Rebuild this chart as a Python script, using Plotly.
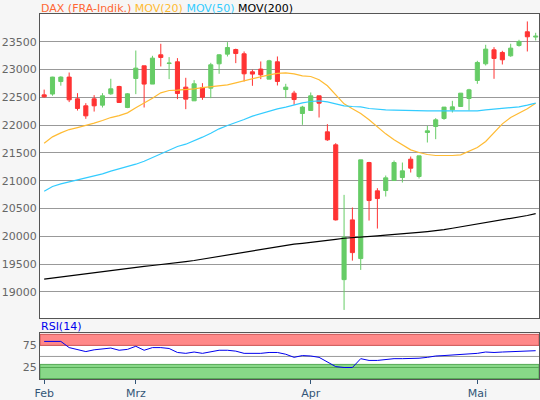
import plotly.graph_objects as go

opens  = [22545,22560,22785,22865,22474,22348,22474,22360,22564,22696,22318,
          22840,23068,22739,23266,23110,23140,22684,22438,22678,22666,23104,23278,23361,23284,22960,23009,22828,23140,22641,22576,22210,
          22264,22528,21880,21646,19221,20296,19600,21328,20818,20824,21004,21058,21388,21076,21868,21976,22120,22276,22336,22480,
          22804,23104,23356,23308,23248,23434,23680,23585]
highs  = [22640,22870,22880,22947,22576,22396,22540,22576,22834,22708,22576,
          23343,23068,23248,23464,23224,23206,22852,22810,22756,23122,23275,23494,23376,23326,23000,23146,23176,23236,22744,22618,22348,
          22588,22528,22018,21676,20746,20518,21376,21340,20866,21094,21364,21328,21436,21448,21988,22126,22325,22438,22576,22654,
          23158,23446,23404,23338,23464,23536,23866,23662]
lows   = [22495,22530,22710,22415,22263,22114,22245,22318,22546,22400,22306,
          22558,22318,22739,23056,22828,22468,22288,22438,22456,22486,22924,23236,23116,22786,22708,22828,22828,22714,22486,22366,22006,
          22264,22138,21718,20284,18676,19563,19396,20284,20140,20716,21004,20968,21148,21040,21688,21748,22096,22228,22336,22263,
          22744,23074,22834,23092,23230,23412,23326,23524]
closes = [22510,22865,22865,22456,22300,22168,22348,22528,22654,22408,22564,
          23026,22739,23206,23218,23116,22570,22468,22744,22504,23086,23266,23397,23289,22924,22919,22906,23158,22786,22684,22461,22325,
          22528,22396,21736,20296,19985,19707,21376,20644,20680,21052,21328,21178,21226,21448,21898,22096,22325,22330,22576,22636,
          23128,23368,23200,23176,23386,23506,23590,23600]
ma20 = [21676,21790,21862,21921,21957,21994,22036,22083,22137,22173,22222,
        22312,22396,22486,22582,22624,22630,22641,22654,22677,22690,22714,22726,22762,22798,22840,22876,22906,22930,22942,22924,22888,
        22876,22816,22708,22546,22384,22294,22209,22096,21970,21844,21736,21646,21556,21508,21472,21454,21448,21454,21466,21526,
        21598,21706,21862,22024,22138,22216,22294,22396]
ma50 = [20813,20896,20944,20980,21004,21046,21088,21124,21172,21214,21250,
        21298,21352,21418,21498,21562,21616,21658,21718,21784,21856,21934,21994,22042,22101,22163,22209,22252,22294,22325,22366,22402,
        22426,22438,22420,22390,22348,22336,22330,22300,22282,22276,22270,22264,22258,22258,22258,22258,22258,22258,22258,22258,
        22258,22276,22288,22300,22312,22330,22360,22396]
ma200 = [19230,19250,19270,19290,19305,19320,19340,19360,19380,19400,19420,
         19440,19460,19475,19490,19505,19525,19545,19565,19590,19610,19640,19665,19690,19715,19740,19765,19790,19815,19840,19860,19875,
         19890,19910,19925,19945,19966,19980,19990,20000,20010,20020,20030,20040,20055,20070,20085,20100,20120,20145,20170,20195,
         20220,20245,20265,20290,20315,20345,20375,20410]
rsi = [84,84,84,70,66,61,65,67,69,64,66,
       73,64,70,70,68,59,57,60,57,61,64,64,62,57,57,57,59,59,55,48,52,
       51,48,37,27,25,25,45,41,41,43,45,45,45,46,48,51,52,53,54,55,
       57,60,59,60,61,62,63,63]
price_ticks = [19000, 19500, 20000, 20500, 21000, 21500, 22000, 22500, 23000, 23500]
month_idx = [0, 11, 32, 52]
month_lbl = ["Feb", "Mrz", "Apr", "Mai"]

x = list(range(len(closes)))
fig = go.Figure()
fig.add_trace(go.Candlestick(x=x, open=opens, high=highs, low=lows, close=closes,
    increasing=dict(line=dict(color="#66cc66", width=1), fillcolor="#66cc66"),
    decreasing=dict(line=dict(color="#ff3333", width=1), fillcolor="#ff3333"),
    whiskerwidth=0, xaxis="x", yaxis="y", showlegend=False))
fig.add_trace(go.Scatter(x=x, y=ma20, mode="lines", line=dict(color="#ffbb33", width=1.2), showlegend=False))
fig.add_trace(go.Scatter(x=x, y=ma50, mode="lines", line=dict(color="#33ccff", width=1.2), showlegend=False))
fig.add_trace(go.Scatter(x=x, y=ma200, mode="lines", line=dict(color="#000000", width=1.2), showlegend=False))
fig.add_trace(go.Scatter(x=x, y=rsi, mode="lines", line=dict(color="#0000ee", width=1), xaxis="x2", yaxis="y2", showlegend=False))

shapes = [
    dict(type="rect", xref="x2 domain", yref="y2", x0=0, x1=1, y0=75, y1=100, fillcolor="#ff8888", line=dict(color="#cc5555", width=1), layer="below"),
    dict(type="rect", xref="x2 domain", yref="y2", x0=0, x1=1, y0=0, y1=32, fillcolor="#88d888", line=dict(color="#55aa55", width=1), layer="below"),
    dict(type="line", xref="x2 domain", yref="y2", x0=0, x1=1, y0=50, y1=50, line=dict(color="#999999", width=1), layer="below"),
    dict(type="line", xref="x2 domain", yref="y2", x0=0, x1=1, y0=25, y1=25, line=dict(color="#55aa55", width=1), layer="below"),
]
fig.update_layout(
    width=540, height=400, margin=dict(l=40, r=1, t=14, b=21),
    paper_bgcolor="#f6f6f6", plot_bgcolor="#ffffff",
    font=dict(family="DejaVu Sans", size=11, color="#666666"),
    shapes=shapes,
    xaxis=dict(domain=[0, 1], anchor="y", range=[-0.5, 59.4], showticklabels=False, showgrid=False,
               rangeslider=dict(visible=False), showline=True, mirror=True, linecolor="#555555", linewidth=1, zeroline=False),
    yaxis=dict(domain=[0.167, 1], range=[18530, 24000], tickvals=price_ticks, tickformat="d",
               showgrid=True, gridcolor="#999999",
               showline=True, mirror=True, linecolor="#555555", linewidth=1, zeroline=False, ticks=""),
    xaxis2=dict(domain=[0, 1], anchor="y2", range=[-0.5, 59.4], tickvals=month_idx, ticktext=month_lbl,
                ticks="outside", ticklen=4, tickcolor="#335577", showgrid=False, showline=True, mirror=True,
                linecolor="#555555", tickfont=dict(color="#335577"), zeroline=False),
    yaxis2=dict(domain=[0, 0.126], range=[-1, 103], tickvals=[25, 75], showgrid=False, showline=True, mirror=True,
                linecolor="#555555", zeroline=False),
    annotations=[
        dict(xref="paper", yref="paper", x=0, y=1.0, xanchor="left", yanchor="bottom", showarrow=False,
             text="<span style='color:#ff6633'>DAX (FRA-Indik.)</span> <span style='color:#ffbb33'>MOV(20)</span> "
                  "<span style='color:#33ccff'>MOV(50)</span> <span style='color:#000000'>MOV(200)</span>",
             font=dict(size=11), borderpad=0, yshift=-2),
        dict(xref="paper", yref="paper", x=0, y=0.126, xanchor="left", yanchor="bottom", showarrow=False,
             text="RSI(14)", font=dict(size=11, color="#0000ee"), borderpad=0, yshift=-1),
    ],
)
fig.write_html("out.html", config={"displayModeBar": False},
               post_script="document.body.style.margin='0';document.body.style.overflow='hidden';")
